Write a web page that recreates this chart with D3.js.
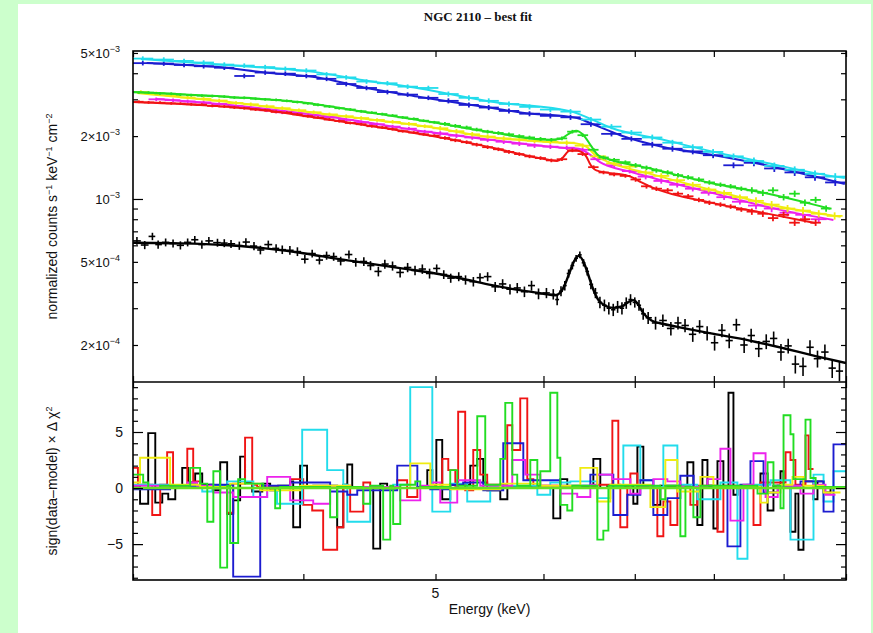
<!DOCTYPE html>
<html><head><meta charset="utf-8">
<script src="https://cdn.jsdelivr.net/npm/d3@7/dist/d3.min.js"></script>
<style>
html,body{margin:0;padding:0;background:#ccffcc;}
svg{display:block;}
</style></head><body>
<svg id="chart" width="873" height="633"></svg>
<script>
// ---------------- DATA ----------------
const TITLE = "NGC 2110 \u2013 best fit";
const X_LABEL = "Energy (keV)";
const X_TICKS = [3, 4, 5, 6, 7, 8, 9, 10];
const X_TICK_LABELS = [5];

const Y_TOP_MINOR = [2e-4, 3e-4, 4e-4, 5e-4, 6e-4, 7e-4, 8e-4, 9e-4, 2e-3, 3e-3, 4e-3, 5e-3];
const Y_TOP_MAJOR = [1e-3];
const Y_TOP_LABEL_VALUES = [5e-3, 2e-3, 1e-3, 5e-4, 2e-4];
const Y_TOP_LABEL_MANT = ["5\u00d710", "2\u00d710", "10", "5\u00d710", "2\u00d710"];
const Y_TOP_LABEL_EXP = ["\u22123", "\u22123", "\u22123", "\u22124", "\u22124"];

const Y_RES_MINOR = [-8, -7, -6, -4, -3, -2, -1, 1, 2, 3, 4, 6, 7, 8, 9];
const Y_RES_MAJOR = [-5, 0, 5];
const Y_RES_LABELS = ["\u22125", "0", "5"];

const UNIT_BLACK = 1e-4;   // black spectrum values are in units of 1e-4
const UNIT_COLOR = 1e-3;   // coloured spectra values are in units of 1e-3

// black spectrum: [energy keV, value, error]
const blackData = [
[3.02,6.30,0.27],[3.06,6.02,0.27],[3.10,6.62,0.27],[3.13,6.05,0.27],[3.17,6.20,0.27],[3.21,6.12,0.27],
[3.25,6.00,0.27],[3.29,6.20,0.27],[3.33,6.38,0.27],[3.37,6.05,0.27],[3.41,6.30,0.27],[3.46,6.18,0.27],
[3.50,6.15,0.27],[3.54,6.10,0.27],[3.59,5.98,0.27],[3.63,6.22,0.27],[3.68,5.95,0.27],[3.72,5.70,0.27],
[3.77,6.05,0.27],[3.82,5.80,0.27],[3.86,5.72,0.27],[3.91,5.68,0.27],[3.96,5.60,0.27],[4.01,5.15,0.24],
[4.06,5.48,0.24],[4.11,5.10,0.24],[4.16,5.36,0.24],[4.21,5.30,0.24],[4.26,5.05,0.24],[4.32,5.42,0.24],
[4.37,4.98,0.24],[4.43,5.02,0.24],[4.48,4.80,0.24],[4.54,4.50,0.24],[4.59,4.88,0.24],[4.65,4.78,0.24],
[4.71,4.45,0.24],[4.77,4.70,0.24],[4.83,4.55,0.24],[4.89,4.62,0.24],[4.95,4.40,0.24],[5.01,4.65,0.21],
[5.07,4.35,0.21],[5.13,4.18,0.21],[5.20,4.25,0.21],[5.26,4.10,0.21],[5.33,4.02,0.21],[5.39,4.20,0.21],
[5.46,4.25,0.21],[5.53,3.80,0.21],[5.60,3.92,0.21],[5.67,3.70,0.21],[5.74,3.75,0.21],[5.81,3.60,0.21],
[5.88,3.85,0.21],[5.95,3.52,0.21],[6.03,3.55,0.20],[6.10,3.50,0.20],[6.14,3.30,0.20],[6.18,3.62,0.20],
[6.22,3.85,0.20],[6.26,4.40,0.20],[6.30,4.80,0.20],[6.34,5.20,0.20],[6.38,5.40,0.20],[6.42,4.95,0.20],
[6.46,4.50,0.20],[6.50,3.90,0.20],[6.55,3.55,0.20],[6.60,3.20,0.20],[6.65,3.10,0.20],[6.70,3.00,0.20],
[6.75,2.95,0.20],[6.80,3.05,0.20],[6.85,3.00,0.20],[6.90,3.18,0.20],[6.95,3.30,0.20],[7.00,3.20,0.18],
[7.05,3.10,0.18],[7.10,2.82,0.18],[7.16,2.70,0.18],[7.25,2.55,0.18],[7.34,2.62,0.18],[7.44,2.40,0.18],
[7.53,2.55,0.18],[7.62,2.48,0.18],[7.72,2.25,0.18],[7.81,2.45,0.18],[7.91,2.28,0.18],[8.01,2.05,0.17],
[8.11,2.35,0.17],[8.21,2.10,0.17],[8.31,2.50,0.17],[8.42,2.00,0.17],[8.52,2.22,0.17],[8.63,1.92,0.17],
[8.74,2.08,0.17],[8.85,2.15,0.17],[8.96,1.85,0.17],[9.07,1.98,0.16],[9.18,1.62,0.16],[9.30,1.58,0.16],
[9.41,1.95,0.16],[9.53,1.72,0.16],[9.65,1.85,0.16],[9.77,1.55,0.16],[9.89,1.50,0.16]
];
const blackModel = [[3.0,6.17],[3.25,6.13],[3.5,6.02],[3.75,5.8],[4.0,5.5],[4.25,5.15],[4.5,4.88],[4.75,4.63],
[5.0,4.40],[5.25,4.13],[5.5,3.87],[5.75,3.67],[6.0,3.52],[6.12,3.46],[6.17,3.55],[6.22,3.88],[6.27,4.45],
[6.32,5.05],[6.37,5.34],[6.42,5.0],[6.47,4.35],[6.52,3.75],[6.58,3.3],[6.65,3.1],[6.75,3.01],[6.85,3.06],
[6.93,3.22],[6.99,3.28],[7.04,3.12],[7.1,2.85],[7.2,2.62],[7.35,2.52],[7.6,2.41],[8.0,2.26],[8.5,2.10],
[9.0,1.93],[9.5,1.77],[10.0,1.64]];

// energy grids of the coloured spectra (keV)
const gridFine = [3.03,3.08,3.14,3.20,3.25,3.31,3.37,3.43,3.50,3.56,3.62,3.69,3.75,3.82,3.89,3.96,4.03,4.10,4.18,4.25,
4.33,4.41,4.49,4.57,4.65,4.73,4.82,4.90,4.99,5.08,5.17,5.27,5.36,5.46,5.56,5.66,5.76,5.86,5.97,6.08,6.19,6.30,6.41,
6.53,6.64,6.76,6.89,7.01,7.14,7.26,7.40,7.53,7.66,7.80,7.94,8.09,8.23,8.38,8.53,8.69,8.84,9.00,9.17,9.33,9.50,9.67,9.85];
const gridMedium = [3.04,3.12,3.21,3.29,3.38,3.47,3.57,3.66,3.76,3.86,3.97,4.07,4.18,4.30,4.41,4.53,4.65,4.78,4.91,5.04,
5.18,5.32,5.46,5.61,5.76,5.91,6.07,6.24,6.41,6.58,6.76,6.94,7.13,7.32,7.52,7.72,7.93,8.14,8.36,8.59,8.82,9.06,9.30,9.55,9.81];
const gridCoarse = [3.05,3.16,3.27,3.38,3.50,3.62,3.75,3.88,4.02,4.16,4.30,4.45,4.61,4.77,4.94,5.11,5.29,5.47,5.66,5.86,
6.07,6.28,6.50,6.73,6.96,7.21,7.46,7.72,7.99,8.27,8.56,8.86,9.17,9.49,9.82];

// relative error bar size by energy band [from keV, fraction]
const errFine = [[3,0.015],[5,0.02],[7,0.025],[8.5,0.035]];
const errMedium = [[3,0.02],[5,0.025],[7,0.03],[8.5,0.04]];
const errCoarse = [[3,0.025],[5,0.028],[7,0.032],[8.5,0.038]];

// coloured spectra values (units 1e-3), aligned with their grid; null = no bin
const redValues = [2.92,2.90,2.89,2.87,2.86,2.84,2.83,2.79,2.77,2.74,2.72,2.68,2.66,2.61,2.59,2.54,2.49,2.45,2.40,2.36,
2.31,2.28,2.23,2.20,2.16,2.11,2.08,2.04,2.01,1.96,1.91,1.87,1.82,1.77,1.73,1.68,1.64,1.60,1.57,1.53,1.55,1.71,1.64,
1.42,1.34,1.31,1.29,1.24,1.15,1.12,1.10,1.06,1.03,0.99,0.96,0.94,0.92,0.89,0.87,0.85,0.81,0.84,0.77,0.80,0.77];
const greenValues = [3.24,3.23,3.20,3.19,3.16,3.14,3.12,3.11,3.09,3.06,3.05,3.02,3.00,2.98,2.95,2.91,2.87,2.82,2.77,2.72,
2.68,2.63,2.59,2.55,2.51,2.46,2.42,2.37,2.33,2.29,2.24,2.20,2.15,2.10,2.07,2.04,2.00,1.97,1.94,1.92,1.95,2.10,2.02,
1.72,1.58,1.54,1.50,1.45,1.41,1.37,1.34,1.30,1.27,1.24,1.20,1.17,1.15,1.12,1.10,1.07,1.10,1.02,1.06,0.96,0.99,0.90];
const yellowValues = [3.25,3.20,3.13,3.06,3.02,2.96,2.88,2.84,2.78,2.72,2.66,2.60,2.54,2.49,2.44,2.39,2.34,2.29,2.23,2.18,
2.11,2.04,1.99,1.95,1.93,1.90,1.88,1.86,1.80,1.60,1.48,1.43,1.34,1.29,1.23,1.17,1.11,1.07,1.02,0.98,0.94,0.90,0.88,0.85,0.83];
const magentaValues = [null,3.00,2.97,2.93,2.90,2.85,2.78,2.72,2.66,2.60,2.56,2.51,2.46,2.39,2.33,2.28,2.22,2.17,2.10,2.06,
2.01,1.97,1.92,1.88,1.84,1.80,1.78,1.76,1.72,1.55,1.45,1.36,1.28,1.22,1.17,1.12,1.07,1.02,0.97,0.93,0.90,0.86,0.84,0.80];
const cyanValues = [4.70,4.65,4.58,4.50,4.40,4.35,4.28,4.20,4.12,3.95,3.82,3.65,3.58,3.45,3.40,3.18,3.05,2.95,2.85,2.76,
2.68,2.62,2.40,2.22,2.08,1.97,1.86,1.77,1.68,1.60,1.52,1.44,1.38,1.32,1.28];
const blueValues = [4.47,4.45,4.38,4.32,4.25,3.88,4.03,3.98,3.88,3.76,3.55,3.40,3.25,3.16,3.05,2.95,2.82,2.74,2.64,2.56,
2.50,2.46,2.28,2.05,1.94,1.82,1.74,1.69,1.62,1.45,1.49,1.40,1.34,1.27,1.20];

// models (units 1e-3): [energy, value]
const redModel = [[3.0,2.91],[3.34,2.82],[3.73,2.67],[4.19,2.39],[4.68,2.14],[5.24,1.88],[5.48,1.77],[6.05,1.54],[6.14,1.52],
[6.2,1.58],[6.27,1.70],[6.35,1.70],[6.44,1.62],[6.5,1.45],[6.56,1.37],[6.95,1.28],[7.08,1.2],[7.2,1.14],[7.97,0.958],[8.7,0.858],[9.49,0.768]];
const greenModel = [[3.0,3.25],[3.53,3.08],[3.97,2.91],[4.44,2.61],[4.95,2.34],[5.48,2.09],[6.05,1.92],[6.18,1.94],[6.26,2.05],
[6.34,2.12],[6.42,2.02],[6.5,1.8],[6.58,1.62],[6.7,1.55],[7.15,1.41],[7.97,1.19],[8.7,1.07],[9.49,0.937],[9.74,0.897]];
const yellowModel = [[3.02,3.22],[3.53,2.91],[4.19,2.53],[4.95,2.21],[5.48,1.98],[6.19,1.86],[6.33,1.85],[6.45,1.78],[6.55,1.62],
[6.7,1.5],[7.15,1.33],[7.97,1.105],[8.95,0.917],[9.91,0.821]];
const magentaModel = [[3.12,3.01],[3.53,2.82],[4.19,2.47],[4.95,2.09],[5.48,1.92],[6.19,1.76],[6.37,1.74],[6.49,1.63],[6.6,1.5],
[6.98,1.34],[7.97,1.07],[8.95,0.887],[9.79,0.794]];
const cyanModel = [[3.04,4.68],[3.6,4.33],[4.07,4.06],[4.43,3.70],[4.87,3.38],[5.48,2.93],[6.31,2.61],[6.42,2.50],[6.74,2.18],
[7.32,1.93],[7.97,1.69],[8.7,1.50],[9.49,1.33],[9.98,1.26]];
const blueModel = [[3.07,4.48],[3.45,4.29],[3.78,4.01],[4.1,3.82],[4.43,3.42],[4.87,3.08],[5.41,2.77],[5.79,2.59],[6.35,2.44],
[6.49,2.31],[6.83,2.02],[7.33,1.78],[7.97,1.63],[8.7,1.46],[9.49,1.28],[9.98,1.18]];

// residuals sign(data-model)*delta chi^2 : [bin start keV, value]; last row = end of last bin
const resBlack = [[3.000,0.2],[3.036,-1.4],[3.078,4.9],[3.115,-1.3],[3.152,-0.5],[3.184,-1.0],[3.222,0.1],[3.260,1.8],[3.293,0.5],
[3.332,1.3],[3.372,0.3],[3.436,-0.2],[3.476,2.3],[3.517,-2.3],[3.553,-1.1],[3.595,2.8],[3.625,0.5],[3.669,-0.3],[3.732,0.4],
[3.782,-0.2],[3.833,0.2],[3.912,0.6],[3.932,-3.5],[3.978,2.0],[4.025,0.0],[4.067,0.2],[4.235,-3.5],[4.279,0.3],[4.308,2.1],
[4.344,0.1],[4.501,-5.4],[4.554,0.4],[4.608,0.0],[4.931,1.6],[4.973,0.2],[5.007,4.3],[5.057,-1.0],[5.126,0.3],[5.302,2.0],
[5.365,2.6],[5.420,0.5],[5.456,-0.2],[5.578,-1.0],[5.645,0.1],[6.100,-2.7],[6.173,0.8],[6.246,0.1],[6.527,2.6],[6.604,0.0],
[6.683,0.2],[6.983,-1.4],[7.031,3.7],[7.102,0.2],[7.223,-1.5],[7.309,0.2],[7.650,2.3],[7.728,0.1],[7.780,-3.3],[7.847,2.5],
[7.914,0.2],[7.994,-3.6],[8.049,2.4],[8.130,0.0],[8.200,8.5],[8.269,-0.6],[8.325,0.1],[8.655,1.3],[8.760,-2.0],[8.847,0.2],
[8.953,1.5],[8.999,0.2],[9.105,-3.9],[9.181,-0.5],[9.228,-5.5],[9.307,0.6],[9.466,-1.0],[9.530,0.6],[9.628,-0.4],[9.742,0.1],[10.0,0.1]];
const resRed = [[3.000,1.8],[3.025,0.3],[3.099,-2.4],[3.141,0.3],[3.178,3.2],[3.210,0.2],[3.288,3.5],[3.321,0.6],[3.360,0.1],
[3.517,-2.2],[3.553,0.4],[3.625,4.5],[3.669,0.3],[3.700,0.1],[3.912,0.8],[3.999,-1.5],[4.060,-2.0],[4.136,-5.5],[4.235,-3.5],
[4.279,0.2],[4.329,-2.1],[4.426,0.5],[4.478,0.0],[4.687,0.7],[4.766,-0.8],[4.849,0.1],[5.057,2.6],[5.109,1.6],[5.170,0.2],
[5.195,6.8],[5.257,-0.2],[5.329,3.4],[5.392,1.2],[5.456,0.3],[5.644,5.6],[5.692,3.4],[5.769,8.0],[5.838,0.8],[5.898,0.2],
[6.142,0.1],[6.571,0.3],[6.740,6.0],[6.808,0.3],[6.831,-3.5],[6.912,0.2],[6.948,1.3],[7.031,0.1],[7.272,-4.3],[7.346,-1.2],
[7.434,-3.3],[7.522,0.2],[7.689,-1.5],[7.780,0.2],[8.049,-3.9],[8.130,0.2],[8.554,-3.3],[8.655,0.5],[9.030,3.2],[9.105,2.5],
[9.181,0.3],[9.339,4.7],[9.387,1.7],[9.466,1.7]];
const resGreen = [[3.000,1.2],[3.052,0.5],[3.078,0.0],[3.141,0.2],[3.304,1.8],[3.360,0.4],[3.401,-3.0],[3.436,1.5],[3.476,-7.1],
[3.517,0.2],[3.535,-4.9],[3.583,0.8],[3.625,0.4],[3.738,0.0],[3.814,-1.8],[3.846,0.1],[4.185,-2.6],[4.235,0.1],[4.426,-1.4],
[4.478,0.2],[4.577,-4.6],[4.632,0.2],[4.655,-3.2],[4.711,0.3],[4.832,0.6],[4.873,0.1],[5.126,1.6],[5.187,0.2],[5.365,6.4],
[5.438,0.3],[5.578,2.6],[5.625,7.6],[5.692,1.2],[5.740,0.2],[5.868,2.5],[5.938,0.2],[5.968,1.5],[6.069,8.5],[6.142,2.7],
[6.173,-1.5],[6.246,-2.0],[6.299,0.2],[6.571,-4.6],[6.638,-3.8],[6.695,0.2],[7.309,-1.0],[7.371,0.2],[7.560,-4.3],[7.625,0.1],
[7.728,-2.6],[7.820,0.2],[8.612,-0.5],[8.760,2.3],[8.847,0.2],[8.953,-1.8],[8.999,6.5],[9.105,4.8],[9.151,0.8],[9.339,6.1],
[9.418,0.9],[9.500,0.1],[10.0,0.1]];
const resBlue = [[3.000,-0.1],[3.194,0.2],[3.418,0.3],[3.553,-7.9],[3.719,0.2],[3.912,0.5],[4.185,-0.3],[4.308,-0.6],[4.381,-0.2],
[4.687,2.0],[4.849,0.1],[4.956,-0.1],[5.126,0.3],[5.239,0.5],[5.420,-0.2],[5.606,4.0],[5.799,0.7],[6.173,0.2],[6.494,1.2],
[6.751,-2.4],[6.912,-0.6],[7.066,0.7],[7.223,-2.4],[7.396,-0.9],[7.560,1.1],[7.731,0.1],[8.186,-5.2],[8.367,0.3],[8.510,2.4],
[8.700,-0.4],[8.911,0.2],[9.260,0.6],[9.628,-2.1],[9.791,3.9],[10.0,3.9]];
const resCyan = [[3.000,0.3],[3.210,0.2],[3.372,-0.3],[3.430,0.2],[3.517,0.6],[3.676,-0.8],[3.763,0.0],[3.826,-1.4],[3.992,5.2],
[4.164,1.6],[4.279,0.3],[4.308,-3.0],[4.478,0.0],[4.655,0.3],[4.791,9.0],[4.973,-2.1],[5.126,0.4],[5.275,-1.2],[5.484,0.2],
[5.938,-0.6],[6.069,0.5],[6.278,0.6],[6.571,-0.9],[6.717,0.2],[6.866,3.8],[7.066,0.7],[7.223,0.1],[7.346,3.8],[7.522,0.3],
[7.780,-1.0],[8.089,0.5],[8.325,-6.3],[8.467,0.3],[8.803,0.7],[9.105,-4.6],[9.466,1.2],[9.628,-1.2],[9.791,1.5],[10.0,1.5]];
const resMagenta = [[3.000,0.2],[3.288,0.5],[3.343,0.2],[3.436,-0.4],[3.553,-0.8],[3.763,1.0],[3.912,-1.1],[4.067,-1.4],[4.185,0.1],
[4.711,-1.1],[4.873,0.2],[4.981,0.5],[5.040,-1.3],[5.187,0.7],[5.392,0.2],[5.692,2.5],[5.818,1.2],[5.968,0.2],[6.173,-0.5],
[6.352,-0.8],[6.494,0.3],[6.571,1.2],[6.740,0.8],[6.948,-0.5],[7.066,0.2],[7.223,0.8],[7.396,0.6],[7.560,0.1],[7.914,0.8],
[8.089,3.5],[8.227,-2.9],[8.410,0.3],[8.554,3.1],[8.730,-0.8],[8.911,0.2],[9.260,-0.5],[9.466,0.3],[9.660,-0.6],[9.824,-0.6]];
const resYellow = [[3.000,0.5],[3.036,2.7],[3.194,0.3],[3.360,0.1],[3.535,0.4],[3.719,-0.2],[3.978,0.2],[4.329,0.0],[4.791,2.2],
[4.956,0.3],[5.126,-0.1],[5.578,0.4],[5.968,0.2],[6.385,1.8],[6.571,-1.2],[6.717,0.3],[7.187,-1.7],[7.371,2.5],[7.522,-0.3],
[7.820,1.0],[7.994,0.1],[8.655,-1.3],[8.760,-0.4],[8.953,0.3],[9.136,1.0],[9.307,0.2],[9.628,-0.4],[9.908,-0.4]];

// ---------------- DRAWING ----------------
const COL = {black:"#000000", red:"#f01414", green:"#22dd22", blue:"#1c1cd0", cyan:"#22dcec", magenta:"#ec22ec", yellow:"#f0ec10"};
const L = 133, R = 846, T = 51, MID = 382, B = 580;
const FONT = "'Liberation Sans', Arial, Helvetica, sans-serif";

const svg = d3.select("#chart");
svg.append("rect").attr("x",18).attr("y",4).attr("width",853).attr("height",629).attr("fill","#ffffff");

const x = d3.scaleLog().domain([3,10]).range([L,R]);
const yTop = d3.scaleLog().domain([1.33e-4,5.11e-3]).range([MID,T]);
const yRes = d3.scaleLinear().domain([-8.2,9.46]).range([B,MID]);

const defs = svg.append("defs");
defs.append("clipPath").attr("id","clipTop").append("rect").attr("x",L).attr("y",T).attr("width",R-L).attr("height",MID-T);
defs.append("clipPath").attr("id","clipRes").append("rect").attr("x",L).attr("y",MID).attr("width",R-L).attr("height",B-MID);

const gTop = svg.append("g").attr("clip-path","url(#clipTop)");
const gRes = svg.append("g").attr("clip-path","url(#clipRes)");

function errFor(table, e){ let f = table[0][1]; table.forEach(r=>{ if(e>=r[0]) f=r[1]; }); return f; }
function binEdges(E){
  return E.map((e,i)=>{
    const lo = i>0 ? Math.sqrt(E[i-1]*e) : e*Math.sqrt(e/E[i+1]);
    const hi = i<E.length-1 ? Math.sqrt(e*E[i+1]) : e*Math.sqrt(e/E[i-1]);
    return [lo,hi];
  });
}
function drawCrosses(g, pts, color, width){
  const sel = g.append("g").attr("stroke",color).attr("stroke-width",width).attr("fill","none");
  pts.forEach(p=>{
    sel.append("line").attr("x1",x(p.lo)).attr("x2",x(p.hi)).attr("y1",yTop(p.v)).attr("y2",yTop(p.v));
    sel.append("line").attr("x1",x(p.e)).attr("x2",x(p.e)).attr("y1",yTop(p.v-p.err)).attr("y2",yTop(p.v+p.err));
  });
}
const modelLine = unit => d3.line().x(d=>x(d[0])).y(d=>yTop(d[1]*unit)).curve(d3.curveMonotoneX);
function drawModel(g, model, unit, color, width){
  g.append("path").datum(model).attr("d",modelLine(unit)).attr("fill","none").attr("stroke",color).attr("stroke-width",width);
}
function colouredPoints(grid, values, errTable){
  const edges = binEdges(grid);
  const pts = [];
  grid.forEach((e,i)=>{
    const v = values[i];
    if(v===null || v===undefined) return;
    const val = v*UNIT_COLOR;
    pts.push({e:e, lo:edges[i][0], hi:edges[i][1], v:val, err:val*errFor(errTable,e)});
  });
  return pts;
}

// top panel series
const topSeries = [
  {grid:gridMedium, vals:magentaValues, err:errMedium, model:magentaModel, c:COL.magenta},
  {grid:gridMedium, vals:yellowValues, err:errMedium, model:yellowModel, c:COL.yellow},
  {grid:gridFine, vals:redValues, err:errFine, model:redModel, c:COL.red},
  {grid:gridFine, vals:greenValues, err:errFine, model:greenModel, c:COL.green},
  {grid:gridCoarse, vals:blueValues, err:errCoarse, model:blueModel, c:COL.blue},
  {grid:gridCoarse, vals:cyanValues, err:errCoarse, model:cyanModel, c:COL.cyan}
];
topSeries.forEach(s=>{
  drawCrosses(gTop, colouredPoints(s.grid, s.vals, s.err), s.c, 1.8);
  drawModel(gTop, s.model, UNIT_COLOR, s.c, 2.0);
});
// black
const bE = blackData.map(d=>d[0]);
const bEdges = binEdges(bE);
drawCrosses(gTop, blackData.map((d,i)=>({e:d[0], lo:bEdges[i][0], hi:bEdges[i][1], v:d[1]*UNIT_BLACK, err:d[2]*UNIT_BLACK})), COL.black, 1.6);
drawModel(gTop, blackModel, UNIT_BLACK, COL.black, 2.4);

// residual panel
const stepLine = d3.line().x(d=>x(d[0])).y(d=>yRes(d[1])).curve(d3.curveStepAfter);
const resSeries = [
  {d:resBlack, c:COL.black}, {d:resRed, c:COL.red}, {d:resCyan, c:COL.cyan}, {d:resBlue, c:COL.blue},
  {d:resMagenta, c:COL.magenta}, {d:resYellow, c:COL.yellow}, {d:resGreen, c:COL.green}
];
resSeries.forEach(s=>{
  gRes.append("path").datum(s.d).attr("d",stepLine).attr("fill","none").attr("stroke",s.c).attr("stroke-width",1.9);
});
gRes.append("line").attr("x1",L).attr("x2",R).attr("y1",yRes(0)).attr("y2",yRes(0)).attr("stroke","#66e022").attr("stroke-width",2.6);

// axes (ticks inward)
function styleAxis(g){ g.select(".domain").remove(); g.selectAll("text").remove(); g.selectAll("line").attr("stroke","#000").attr("stroke-width",1.2); }
[[T, d3.axisBottom], [MID, d3.axisTop], [MID, d3.axisBottom], [B, d3.axisTop]].forEach(([yy, ax])=>{
  svg.append("g").attr("transform",`translate(0,${yy})`).call(ax(x).tickValues(X_TICKS).tickSize(6).tickFormat("")).call(styleAxis);
});
[[L, d3.axisRight],[R, d3.axisLeft]].forEach(([xx, ax])=>{
  svg.append("g").attr("transform",`translate(${xx},0)`).call(ax(yTop).tickValues(Y_TOP_MINOR).tickSize(5).tickFormat("")).call(styleAxis);
  svg.append("g").attr("transform",`translate(${xx},0)`).call(ax(yTop).tickValues(Y_TOP_MAJOR).tickSize(10).tickFormat("")).call(styleAxis);
  svg.append("g").attr("transform",`translate(${xx},0)`).call(ax(yRes).tickValues(Y_RES_MINOR).tickSize(5).tickFormat("")).call(styleAxis);
  svg.append("g").attr("transform",`translate(${xx},0)`).call(ax(yRes).tickValues(Y_RES_MAJOR).tickSize(10).tickFormat("")).call(styleAxis);
});

// frames
svg.append("rect").attr("x",L).attr("y",T).attr("width",R-L).attr("height",B-T).attr("fill","none").attr("stroke","#000").attr("stroke-width",1.6);
svg.append("line").attr("x1",L).attr("x2",R).attr("y1",MID).attr("y2",MID).attr("stroke","#000").attr("stroke-width",1.6);

// tick labels
const txt = svg.append("g").attr("font-family",FONT).attr("fill","#111");
Y_TOP_LABEL_VALUES.forEach((v,i)=>{
  const t = txt.append("text").attr("x",120).attr("y",yTop(v)+5).attr("text-anchor","end").attr("font-size",13);
  t.append("tspan").text(Y_TOP_LABEL_MANT[i]);
  t.append("tspan").attr("dy",-6).attr("font-size",9).text(Y_TOP_LABEL_EXP[i]);
});
Y_RES_MAJOR.forEach((v,i)=>{
  txt.append("text").attr("x",123).attr("y",yRes(v)+5).attr("text-anchor","end").attr("font-size",14).text(Y_RES_LABELS[i]);
});
X_TICK_LABELS.forEach(v=>{
  txt.append("text").attr("x",x(v)).attr("y",598).attr("text-anchor","middle").attr("font-size",14).text(String(v));
});
txt.append("text").attr("x",(L+R)/2).attr("y",614).attr("text-anchor","middle").attr("font-size",14).text(X_LABEL);

const yt1 = txt.append("text").attr("transform",`translate(57,${(T+MID)/2}) rotate(-90)`).attr("text-anchor","middle").attr("font-size",14);
yt1.append("tspan").text("normalized counts s");
yt1.append("tspan").attr("dy",-5).attr("font-size",9).text("\u22121");
yt1.append("tspan").attr("dy",5).text(" keV");
yt1.append("tspan").attr("dy",-5).attr("font-size",9).text("\u22121");
yt1.append("tspan").attr("dy",5).text(" cm");
yt1.append("tspan").attr("dy",-5).attr("font-size",9).text("\u22122");

const yt2 = txt.append("text").attr("transform",`translate(57,${(MID+B)/2}) rotate(-90)`).attr("text-anchor","middle").attr("font-size",14);
yt2.append("tspan").text("sign(data\u2013model) \u00d7 \u0394 \u03c7");
yt2.append("tspan").attr("dy",-5).attr("font-size",9).text("2");

svg.append("text").attr("x",478).attr("y",21).attr("text-anchor","middle").attr("font-family","'Liberation Serif', 'Times New Roman', serif")
  .attr("font-weight","bold").attr("font-size",13).attr("fill","#111").text(TITLE);
</script></body></html>
